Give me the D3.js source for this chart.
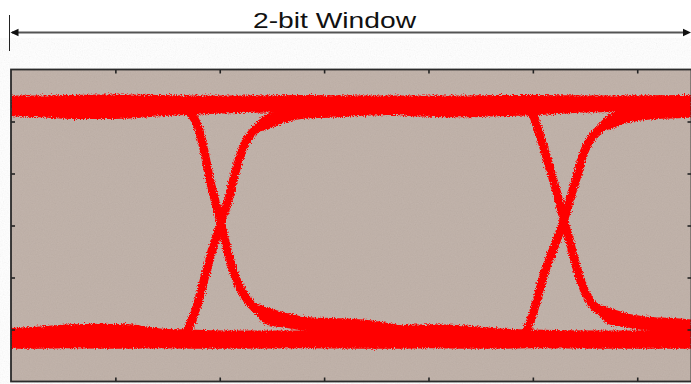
<!DOCTYPE html>
<html>
<head>
<meta charset="utf-8">
<script src="https://cdn.jsdelivr.net/npm/d3@7"></script>
<style>
  body { margin: 0; background: #fff; }
  svg { display: block; }
</style>
</head>
<body>
<div id="eye"></div>
<script>
// axis ticks (ps / mV)
var xTicks = [100, 200, 300, 400, 500, 600];
var yTicks = [-200, -100, 0, 100, 200];
var titleText = "2-bit Window";

// logic-1 and logic-0 rails: [time, low edge, high edge]
var upperRail = [
  [0, 210, 250], [28, 208, 250], [57, 205, 251], [85, 205, 252],
  [114, 206, 252], [143, 210, 251], [172, 213, 250], [210, 216, 250],
  [277, 218, 251], [337, 216, 250], [401, 209, 250], [433, 208, 250],
  [468, 210, 251], [500, 212, 251], [563, 218, 250], [652, 218, 251]
];
var lowerRail = [
  [0, -237, -197], [28, -237, -194], [57, -236, -190], [85, -237, -189],
  [114, -237, -190], [143, -236, -198], [172, -237, -200], [210, -237, -202],
  [277, -236, -202], [337, -237, -198], [373, -237, -192], [401, -236, -190],
  [433, -237, -192], [468, -237, -198], [500, -236, -200], [563, -237, -202],
  [652, -237, -202]
];

// transitions: [time, level]
var fallEdge1 = [
  [160, 229], [169.5, 220], [177.9, 196.5], [184.2, 151.5], [190.6, 87.5],
  [197, 36.2], [201.1, 4.2], [205, -27.9], [209.8, -66.3], [216.2, -104.8],
  [222.5, -130.4], [232.1, -156.2], [244.9, -172.1]
];
var riseEdge1 = [
  [160, -214], [168.3, -203], [177.9, -156], [185.8, -98.5], [193.8, -40.8],
  [201.1, 4.8], [208.2, 49], [214.6, 100.4], [219.4, 132.3], [224.2, 158.1],
  [230.6, 177.3], [241.7, 196.5]
];
var fallEdge2 = [
  [491, 226], [498.8, 216], [506.7, 174], [514.4, 122.7], [522.7, 65],
  [529.7, 10.6], [535.4, -31.2], [543.1, -88.8], [551.4, -133.7],
  [560.3, -158.7], [572, -172]
];
var riseEdge2 = [
  [489.5, -216], [495.2, -197], [503.5, -146.5], [511.5, -88.8],
  [521.1, -37.5], [529.7, 10.6], [537, 60], [543, 100], [547.9, 135.6],
  [553, 158], [559, 176], [570, 194]
];

// settling tails after each transition: [time, low edge, high edge]
var fallTail1 = [
  [229, -150, -146], [235, -172, -150], [245, -191, -157], [264, -197, -168],
  [284, -203, -176], [306, -205, -178], [337, -209, -181], [373, -212, -192]
];
var riseTail1 = [
  [228, 172, 180], [235, 180, 197], [242, 182, 211], [261, 197, 222],
  [284, 206, 226], [306, 207, 228], [337, 211, 228], [373, 213, 230]
];
var fallTail2 = [
  [558, -152, -148], [564, -174, -152], [574, -191, -159], [593, -197, -170],
  [613, -203, -176], [635, -205, -178], [652, -208, -181]
];
var riseTail2 = [
  [557, 172, 180], [564, 180, 197], [571, 183, 211], [590, 197, 222],
  [613, 204, 226], [635, 206, 228], [652, 207, 229]
];

var W = 691, H = 384;
var plot = { left: 11, top: 69.5, right: 691.5, bottom: 381.5 };

var svg = d3
  .select("#eye")
  .append("svg")
  .attr("width", W)
  .attr("height", H);

var defs = svg.append("defs");

// rough speckled edges for the red traces
var rough = defs.append("filter").attr("id", "rough")
  .attr("x", "-5%").attr("y", "-5%").attr("width", "110%").attr("height", "110%");
rough.append("feTurbulence")
  .attr("type", "fractalNoise").attr("baseFrequency", 0.9)
  .attr("numOctaves", 2).attr("seed", 4).attr("result", "noise");
rough.append("feDisplacementMap")
  .attr("in", "SourceGraphic").attr("in2", "noise")
  .attr("scale", 5.5).attr("xChannelSelector", "R").attr("yChannelSelector", "G")
  .attr("result", "moved");
rough.append("feGaussianBlur").attr("in", "moved").attr("stdDeviation", 0.45);

// grain for the background
var grain = defs.append("filter").attr("id", "grain");
grain.append("feTurbulence")
  .attr("type", "fractalNoise").attr("baseFrequency", 0.85)
  .attr("numOctaves", 2).attr("seed", 9);
grain.append("feColorMatrix").attr("type", "saturate").attr("values", 0);

defs.append("clipPath").attr("id", "plotClip")
  .append("rect")
  .attr("x", plot.left).attr("y", plot.top)
  .attr("width", plot.right - plot.left).attr("height", plot.bottom - plot.top);

var x = d3.scaleLinear().domain([0, 652]).range([plot.left, plot.right]);
var y = d3.scaleLinear().domain([-300, 300]).range([plot.bottom, plot.top]);

// background
svg.append("rect")
  .attr("x", plot.left).attr("y", plot.top)
  .attr("width", plot.right - plot.left).attr("height", plot.bottom - plot.top)
  .attr("fill", "#bfb0a7");
svg.append("rect")
  .attr("x", plot.left).attr("y", plot.top)
  .attr("width", plot.right - plot.left).attr("height", plot.bottom - plot.top)
  .attr("filter", "url(#grain)")
  .attr("opacity", 0.12);

var traces = svg.append("g")
  .attr("clip-path", "url(#plotClip)")
  .append("g")
  .attr("filter", "url(#rough)");

var band = d3.area()
  .x(function (d) { return x(d[0]); })
  .y0(function (d) { return y(d[1]); })
  .y1(function (d) { return y(d[2]); })
  .curve(d3.curveMonotoneX);

var edge = d3.line()
  .x(function (d) { return x(d[0]); })
  .y(function (d) { return y(d[1]); })
  .curve(d3.curveCatmullRom);

[upperRail, lowerRail, fallTail1, riseTail1, fallTail2, riseTail2].forEach(function (b) {
  traces.append("path")
    .datum(b)
    .attr("d", band)
    .attr("fill", "#ff0000");
});

[fallEdge1, riseEdge1, fallEdge2, riseEdge2].forEach(function (e) {
  traces.append("path")
    .datum(e)
    .attr("d", edge)
    .attr("fill", "none")
    .attr("stroke", "#ff0000")
    .attr("stroke-width", 8.5)
    .attr("stroke-linecap", "round");
});

// inward ticks on all four sides
function styleAxis(g) {
  g.select(".domain").remove();
  g.selectAll(".tick line").attr("stroke", "#222").attr("stroke-width", 1.6);
}
svg.append("g")
  .attr("transform", "translate(0," + plot.bottom + ")")
  .call(d3.axisBottom(x).tickValues(xTicks).tickSize(-4).tickFormat(""))
  .call(styleAxis);
svg.append("g")
  .attr("transform", "translate(0," + plot.top + ")")
  .call(d3.axisTop(x).tickValues(xTicks).tickSize(-4).tickFormat(""))
  .call(styleAxis);
svg.append("g")
  .attr("transform", "translate(" + plot.left + ",0)")
  .call(d3.axisLeft(y).tickValues(yTicks).tickSize(-4).tickFormat(""))
  .call(styleAxis);
svg.append("g")
  .attr("transform", "translate(" + plot.right + ",0)")
  .call(d3.axisRight(y).tickValues(yTicks).tickSize(-4).tickFormat(""))
  .call(styleAxis);

// frame
svg.append("rect")
  .attr("x", plot.left).attr("y", plot.top)
  .attr("width", plot.right - plot.left).attr("height", plot.bottom - plot.top)
  .attr("fill", "none")
  .attr("stroke", "#2a2a2a")
  .attr("stroke-width", 1.8);

// window dimension arrow
svg.append("line")
  .attr("x1", 9.5).attr("x2", 9.5).attr("y1", 15).attr("y2", 51)
  .attr("stroke", "#222").attr("stroke-width", 1);
svg.append("line")
  .attr("x1", 12).attr("x2", 688).attr("y1", 32.5).attr("y2", 32.5)
  .attr("stroke", "#555").attr("stroke-width", 1.8);
svg.append("path")
  .attr("d", "M10.5,32.5 L18.5,28.8 L18.5,36.2 Z")
  .attr("fill", "#111");
svg.append("path")
  .attr("d", "M691,32.5 L683,28.8 L683,36.2 Z")
  .attr("fill", "#111");

svg.append("text")
  .attr("x", 253)
  .attr("y", 27.5)
  .attr("textLength", 163)
  .attr("lengthAdjust", "spacingAndGlyphs")
  .style("font-family", "Liberation Sans, Arial, sans-serif")
  .style("font-size", "22px")
  .attr("fill", "#111")
  .text(titleText);
</script>
</body>
</html>
